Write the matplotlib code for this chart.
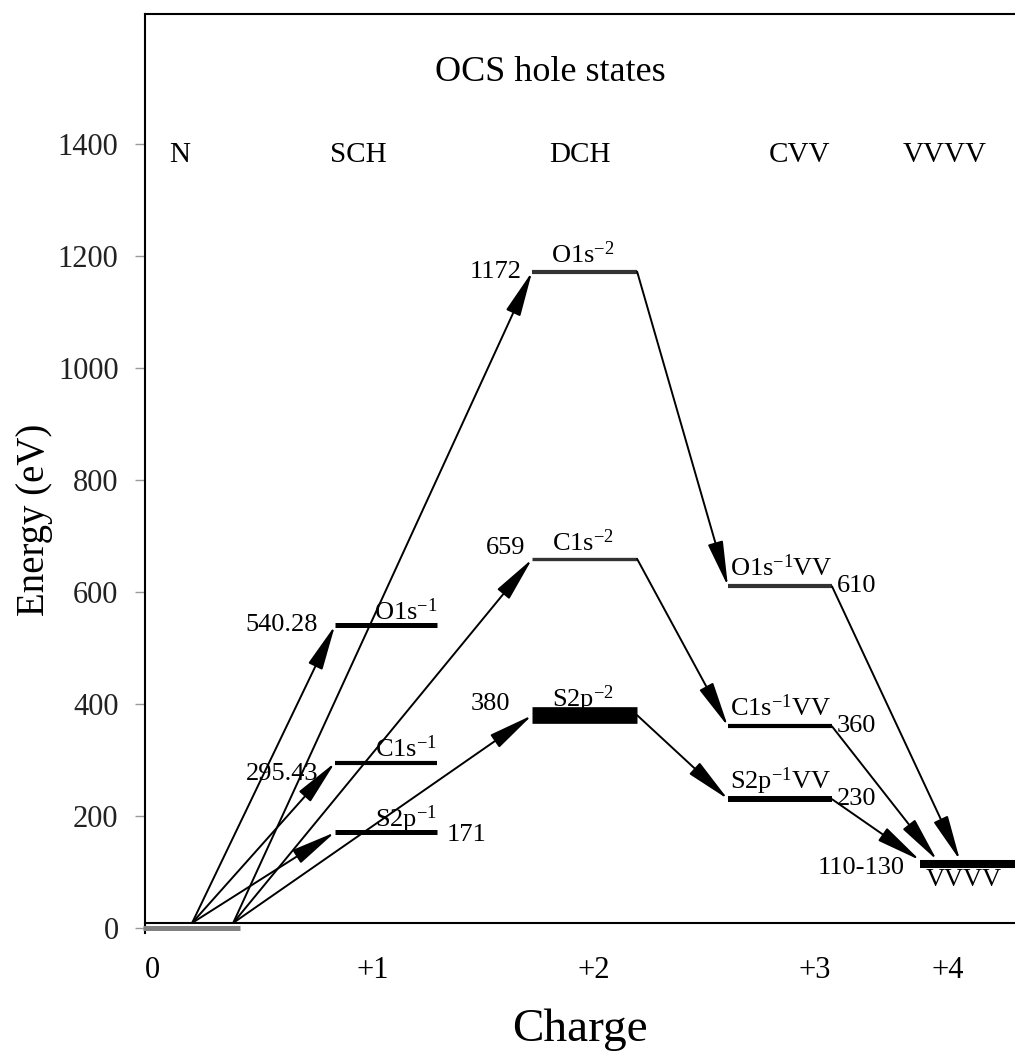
import matplotlib.pyplot as plt

# fonte serifada parecida com Times
plt.rcParams['font.family'] = 'Liberation Serif'
plt.rcParams['mathtext.fontset'] = 'custom'
plt.rcParams['mathtext.rm'] = 'Liberation Serif'
plt.rcParams['mathtext.it'] = 'Liberation Serif:italic'

# dados: niveis de energia (eV)
grupos = ['N', 'SCH', 'DCH', 'CVV', 'VVVV']
cargas = ['0', '+1', '+2', '+3', '+4']
e_N = 0
sch_nomes = ['O1s$^{-1}$', 'C1s$^{-1}$', 'S2p$^{-1}$']
sch_e = [540.28, 295.43, 171]
sch_txt = ['540.28', '295.43', '171']
dch_nomes = ['O1s$^{-2}$', 'C1s$^{-2}$', 'S2p$^{-2}$']
dch_e = [1172, 659, 380]
dch_txt = ['1172', '659', '380']
cvv_nomes = ['O1s$^{-1}$VV', 'C1s$^{-1}$VV', 'S2p$^{-1}$VV']
cvv_e = [610, 360, 230]
cvv_txt = ['610', '360', '230']
vvvv_e = 115
vvvv_txt = '110-130'

# posicoes horizontais (layout)
x_N = (-0.04, 0.40)
x_sch = (0.828, 1.29)
x_dch = (1.72, 2.195)
x_cvv = (2.606, 3.077)
x_vvvv = (3.475, 3.97)
tick_pos = [0, 1, 2, 3, 3.6]

fig = plt.figure(figsize=(10.15, 10.53), dpi=100)
ax = fig.add_axes([145/1015, 1 - 932.5/1053, 870/1015, 918.5/1053])
ax.set_xlim(-0.032, 3.905)
ax.set_ylim(-8, 1632)

# eixos
ax.spines['right'].set_visible(False)
ax.spines['bottom'].set_position(('data', 9))
ax.spines['left'].set_linewidth(1.5)
ax.spines['top'].set_linewidth(1.5)
ax.spines['bottom'].set_linewidth(1.5)
ax.set_yticks(range(0, 1401, 200))
ax.set_xticks(tick_pos)
ax.set_xticklabels(cargas)
ax.tick_params(axis='y', length=7, width=1, color='#999999', pad=12, labelsize=22, labelcolor='#222222')
ax.tick_params(axis='x', length=0, pad=24, labelsize=22)

# niveis
def nivel(xr, e, lw, cor='black'):
    ax.plot(xr, [e, e], color=cor, lw=lw, solid_capstyle='butt', clip_on=False, zorder=3)

nivel(x_N, e_N, 3.6, '#808080')
for e, lw in zip(sch_e, [3.6, 3.0, 3.6]):
    nivel(x_sch, e, lw)
for e, lw, c in zip(dch_e, [3.0, 2.4, 12], ['#333333', '#333333', 'black']):
    nivel(x_dch, e, lw, c)
for e, lw, c in zip(cvv_e, [3.0, 3.0, 4.3], ['#333333', 'black', 'black']):
    nivel(x_cvv, e, lw, c)
nivel(x_vvvv, vvvv_e, 5.8)

# setas
estilo = dict(arrowstyle='-|>,head_length=1.4,head_width=0.24', mutation_scale=20,
              color='black', lw=1.4, shrinkA=0, shrinkB=0)

def seta(x0, y0, x1, y1):
    ax.annotate('', xy=(x1, y1), xytext=(x0, y0), arrowprops=estilo, zorder=4)

for e in sch_e:
    seta(0.181, 9, x_sch[0], e)
for e in dch_e:
    seta(0.367, 9, x_dch[0], e)
for e0, e1 in zip(dch_e, cvv_e):
    seta(x_dch[1], e0, x_cvv[0], e1)
for e0, xf in zip(cvv_e, [3.656, 3.552, 3.475]):
    seta(x_cvv[1], e0, xf, vvvv_e + 6)

# textos
fs = 19
ax.text(1.80, 1527, 'OCS hole states', fontsize=26, ha='center', va='center')
for g, xg in zip(grupos, [0.127, 0.932, 1.937, 2.932, 3.588]):
    ax.text(xg, 1380, g, fontsize=21, ha='center', va='center')

for nome, e, t in zip(sch_nomes, sch_e, sch_txt):
    ax.text(x_sch[1], e + 10, nome, fontsize=fs, ha='right', va='baseline')
ax.text(0.751, sch_e[0], sch_txt[0], fontsize=fs, ha='right', va='center')
ax.text(0.751, sch_e[1] - 20, sch_txt[1], fontsize=fs, ha='right', va='center')
ax.text(1.335, sch_e[2] - 5, sch_txt[2], fontsize=fs, ha='left', va='center')

for nome, e, t, xt in zip(dch_nomes, dch_e, dch_txt, [1.674, 1.688, 1.62]):
    ax.text(1.95, e + 15, nome, fontsize=fs, ha='center', va='baseline')
    ax.text(xt, e + (0 if e > 1000 else 20), t, fontsize=fs, ha='right', va='center')

for nome, e, t in zip(cvv_nomes, cvv_e, cvv_txt):
    ax.text(2.615, e + 18, nome, fontsize=fs, ha='left', va='baseline')
    ax.text(3.10, e, t, fontsize=fs, ha='left', va='center')

ax.text(3.407, vvvv_e - 8, vvvv_txt, fontsize=fs, ha='right', va='center')
ax.text(3.50, vvvv_e - 29, 'VVVV', fontsize=fs, ha='left', va='center')

fig.text(35/1015, 1 - 520/1053, 'Energy (eV)', fontsize=28, rotation=90, ha='center', va='center')
fig.text(580/1015, 1 - 1030/1053, 'Charge', fontsize=34, ha='center', va='center')

plt.savefig('out.png', dpi=100)
